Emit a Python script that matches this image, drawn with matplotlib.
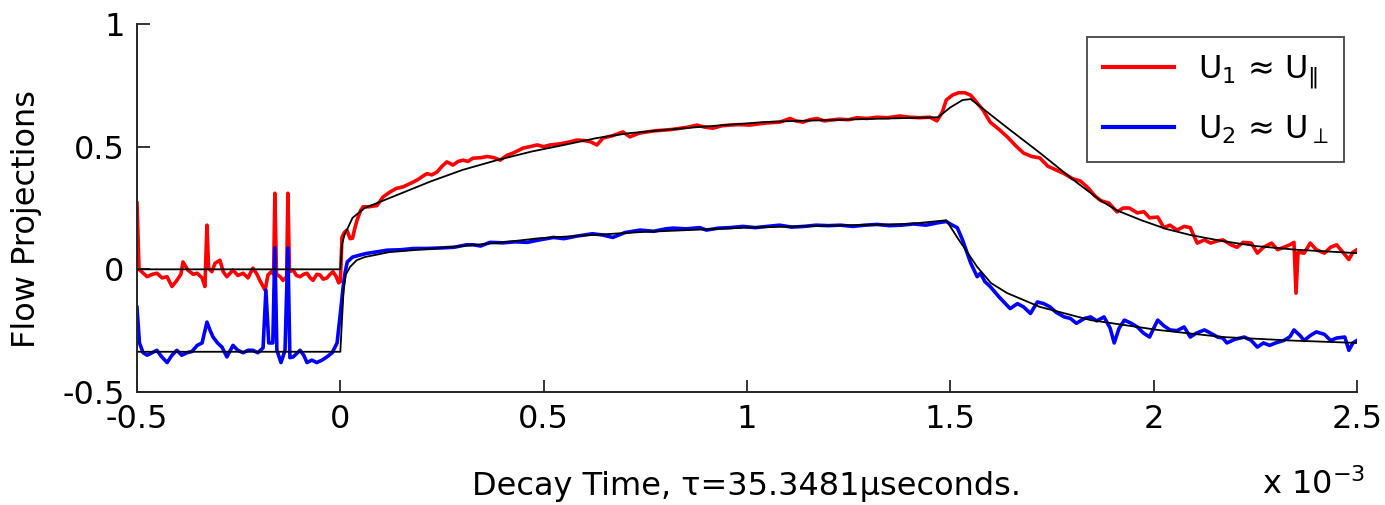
import numpy as np
import matplotlib
matplotlib.use('Agg')
import matplotlib.pyplot as plt

plt.rcParams['font.family'] = ['DejaVu Sans']
plt.rcParams['mathtext.fontset'] = 'dejavusans'

# time in units of 1e-3
t_u1 = [-0.500, -0.495, -0.475, -0.462, -0.451, -0.438, -0.426, -0.414, -0.402, -0.392,
        -0.387, -0.375, -0.362, -0.352, -0.340, -0.333, -0.328, -0.324, -0.316, -0.308,
        -0.296, -0.288, -0.279, -0.264, -0.252, -0.239, -0.227, -0.215, -0.205, -0.198,
        -0.185, -0.178, -0.170, -0.164, -0.161, -0.157, -0.148, -0.141, -0.132, -0.129,
        -0.125, -0.116, -0.108, -0.099, -0.090, -0.082, -0.074, -0.067, -0.058, -0.050,
        -0.042, -0.033, -0.025, -0.018, -0.010, -0.004, 0.000, 0.004, 0.010, 0.016,
        0.024, 0.030, 0.036, 0.041, 0.050, 0.056, 0.070, 0.090, 0.105, 0.122,
        0.138, 0.154, 0.172, 0.189, 0.203, 0.213, 0.225, 0.238, 0.250, 0.262,
        0.277, 0.290, 0.302, 0.314, 0.326, 0.345, 0.361, 0.378, 0.393, 0.410,
        0.425, 0.449, 0.466, 0.484, 0.500, 0.516, 0.532, 0.548, 0.565, 0.582,
        0.600, 0.615, 0.631, 0.646, 0.670, 0.695, 0.712, 0.735, 0.754, 0.775,
        0.793, 0.815, 0.835, 0.856, 0.877, 0.895, 0.916, 0.937, 0.958, 0.980,
        1.007, 1.025, 1.039, 1.060, 1.081, 1.106, 1.120, 1.138, 1.155, 1.172,
        1.190, 1.204, 1.225, 1.250, 1.270, 1.295, 1.320, 1.345, 1.376, 1.400,
        1.425, 1.450, 1.467, 1.480, 1.490, 1.505, 1.520, 1.535, 1.550, 1.565,
        1.580, 1.598, 1.620, 1.640, 1.660, 1.680, 1.700, 1.720, 1.740, 1.760,
        1.780, 1.800, 1.820, 1.840, 1.855, 1.870, 1.890, 1.910, 1.925, 1.940,
        1.960, 1.976, 1.990, 2.010, 2.025, 2.040, 2.057, 2.075, 2.090, 2.107,
        2.125, 2.140, 2.155, 2.170, 2.190, 2.205, 2.220, 2.240, 2.255, 2.270,
        2.290, 2.305, 2.320, 2.335, 2.345, 2.350, 2.355, 2.370, 2.385, 2.400,
        2.420, 2.435, 2.450, 2.465, 2.480, 2.490, 2.500]
u1 = [0.27, 0.00, -0.03, -0.02, -0.016, -0.035, -0.03, -0.07, -0.045, -0.02,
      0.03, -0.003, -0.02, -0.016, -0.035, -0.07, 0.18, 0.005, -0.01, 0.025,
      0.037, -0.01, -0.03, -0.003, -0.025, -0.016, -0.035, 0.005, -0.02, -0.045,
      -0.085, -0.023, -0.01, -0.02, 0.31, -0.02, -0.03, -0.045, -0.03, 0.31,
      -0.01, -0.003, -0.025, -0.03, -0.02, -0.016, -0.035, -0.045, -0.02, -0.023,
      -0.04, -0.035, -0.02, -0.01, -0.03, -0.055, -0.05, 0.13, 0.15, 0.16,
      0.125, 0.127, 0.17, 0.20, 0.24, 0.255, 0.255, 0.26, 0.295, 0.315,
      0.33, 0.336, 0.35, 0.364, 0.38, 0.39, 0.385, 0.397, 0.42, 0.438,
      0.425, 0.44, 0.445, 0.44, 0.453, 0.455, 0.46, 0.455, 0.445, 0.465,
      0.474, 0.494, 0.50, 0.507, 0.50, 0.507, 0.51, 0.514, 0.52, 0.527,
      0.525, 0.52, 0.507, 0.535, 0.545, 0.56, 0.54, 0.555, 0.56, 0.565,
      0.567, 0.57, 0.575, 0.58, 0.588, 0.58, 0.575, 0.585, 0.588, 0.59,
      0.588, 0.592, 0.595, 0.598, 0.60, 0.615, 0.605, 0.60, 0.61, 0.615,
      0.605, 0.608, 0.612, 0.61, 0.618, 0.615, 0.62, 0.618, 0.625, 0.62,
      0.618, 0.62, 0.605, 0.64, 0.69, 0.71, 0.72, 0.72, 0.71, 0.68,
      0.65, 0.60, 0.57, 0.54, 0.505, 0.474, 0.46, 0.454, 0.42, 0.405,
      0.39, 0.37, 0.36, 0.33, 0.30, 0.28, 0.27, 0.234, 0.25, 0.25,
      0.23, 0.235, 0.21, 0.213, 0.17, 0.18, 0.16, 0.175, 0.17, 0.107,
      0.12, 0.107, 0.115, 0.12, 0.10, 0.09, 0.11, 0.107, 0.066, 0.09,
      0.107, 0.08, 0.09, 0.10, 0.11, -0.097, 0.07, 0.066, 0.107, 0.08,
      0.066, 0.09, 0.10, 0.07, 0.04, 0.07, 0.08]

t_u2 = [-0.500, -0.494, -0.485, -0.475, -0.463, -0.451, -0.440, -0.426, -0.414, -0.402,
        -0.390, -0.377, -0.365, -0.352, -0.340, -0.328, -0.320, -0.313, -0.302, -0.291,
        -0.279, -0.264, -0.252, -0.239, -0.227, -0.215, -0.203, -0.190, -0.183, -0.176,
        -0.166, -0.161, -0.156, -0.146, -0.136, -0.129, -0.124, -0.116, -0.099, -0.090,
        -0.082, -0.070, -0.058, -0.045, -0.033, -0.020, -0.008, 0.000, 0.007, 0.012,
        0.017, 0.030, 0.048, 0.065, 0.085, 0.115, 0.150, 0.180, 0.210, 0.245,
        0.280, 0.310, 0.327, 0.345, 0.368, 0.400, 0.430, 0.460, 0.490, 0.524,
        0.550, 0.580, 0.620, 0.645, 0.670, 0.700, 0.737, 0.770, 0.800, 0.818,
        0.850, 0.884, 0.900, 0.930, 0.958, 0.990, 1.020, 1.050, 1.080, 1.110,
        1.140, 1.170, 1.200, 1.230, 1.260, 1.290, 1.320, 1.350, 1.380, 1.410,
        1.440, 1.470, 1.490, 1.505, 1.517, 1.530, 1.550, 1.566, 1.574, 1.585,
        1.598, 1.620, 1.647, 1.665, 1.680, 1.697, 1.714, 1.730, 1.745, 1.760,
        1.780, 1.795, 1.810, 1.830, 1.845, 1.860, 1.878, 1.893, 1.903, 1.915,
        1.928, 1.945, 1.960, 1.975, 1.990, 2.000, 2.010, 2.025, 2.040, 2.057,
        2.075, 2.090, 2.105, 2.125, 2.140, 2.157, 2.170, 2.180, 2.200, 2.223,
        2.240, 2.255, 2.270, 2.285, 2.300, 2.320, 2.335, 2.345, 2.360, 2.370,
        2.385, 2.400, 2.420, 2.435, 2.450, 2.470, 2.480, 2.490, 2.500]
u2 = [-0.155, -0.30, -0.34, -0.35, -0.34, -0.33, -0.355, -0.38, -0.35, -0.33,
      -0.35, -0.34, -0.335, -0.31, -0.30, -0.215, -0.25, -0.276, -0.30, -0.317,
      -0.357, -0.31, -0.33, -0.34, -0.33, -0.33, -0.34, -0.32, -0.085, -0.30,
      -0.30, 0.087, -0.33, -0.38, -0.33, 0.087, -0.36, -0.357, -0.33, -0.35,
      -0.38, -0.37, -0.38, -0.37, -0.357, -0.34, -0.30, -0.18, -0.07, -0.01,
      0.03, 0.05, 0.058, 0.065, 0.07, 0.078, 0.08, 0.085, 0.085, 0.087,
      0.09, 0.10, 0.10, 0.095, 0.11, 0.108, 0.112, 0.11, 0.12, 0.13,
      0.125, 0.135, 0.145, 0.14, 0.13, 0.15, 0.16, 0.155, 0.165, 0.168,
      0.165, 0.17, 0.16, 0.168, 0.17, 0.175, 0.17, 0.175, 0.18, 0.172,
      0.175, 0.18, 0.178, 0.18, 0.175, 0.18, 0.183, 0.178, 0.18, 0.185,
      0.18, 0.19, 0.195, 0.18, 0.17, 0.12, 0.026, -0.03, -0.016, -0.05,
      -0.07, -0.113, -0.16, -0.14, -0.153, -0.18, -0.133, -0.14, -0.153, -0.175,
      -0.194, -0.20, -0.22, -0.20, -0.194, -0.21, -0.194, -0.24, -0.30, -0.24,
      -0.207, -0.22, -0.235, -0.26, -0.276, -0.24, -0.207, -0.23, -0.247, -0.25,
      -0.235, -0.276, -0.26, -0.247, -0.26, -0.276, -0.28, -0.30, -0.285, -0.276,
      -0.29, -0.317, -0.30, -0.31, -0.30, -0.29, -0.275, -0.247, -0.27, -0.29,
      -0.27, -0.255, -0.265, -0.29, -0.28, -0.276, -0.33, -0.30, -0.29]

# fitted curves (black)
t_fit1 = [-0.5, 0.0, 0.004, 0.010, 0.016, 0.030, 0.060, 0.150, 0.220, 0.300,
          0.385, 0.470, 0.550, 0.630, 0.710, 0.790, 0.880, 0.960, 1.040, 1.120,
          1.200, 1.300, 1.400, 1.470, 1.500, 1.530, 1.550, 1.640, 1.720, 1.810,
          1.870, 1.910, 1.970, 2.030, 2.090, 2.170, 2.250, 2.350, 2.500]
fit1 = [0.0, 0.0, 0.10, 0.14, 0.16, 0.21, 0.25, 0.31, 0.357, 0.405,
        0.445, 0.48, 0.507, 0.535, 0.555, 0.567, 0.58, 0.59, 0.60, 0.605,
        0.608, 0.613, 0.617, 0.62, 0.66, 0.69, 0.694, 0.577, 0.475, 0.355,
        0.28, 0.24, 0.20, 0.165, 0.14, 0.115, 0.095, 0.08, 0.066]

t_fit2 = [-0.5, 0.0, 0.004, 0.008, 0.013, 0.024, 0.040, 0.060, 0.120, 0.245,
          0.400, 0.490, 0.740, 1.000, 1.200, 1.400, 1.490, 1.517, 1.566, 1.600,
          1.640, 1.720, 1.845, 2.010, 2.170, 2.335, 2.500]
fit2 = [-0.336, -0.336, -0.207, -0.085, -0.023, 0.01, 0.037, 0.05, 0.07, 0.087,
        0.11, 0.127, 0.152, 0.17, 0.178, 0.185, 0.20, 0.13, 0.01, -0.056,
        -0.097, -0.153, -0.207, -0.247, -0.276, -0.29, -0.30]

xticks = [-0.5, 0, 0.5, 1, 1.5, 2, 2.5]
yticks = [-0.5, 0, 0.5, 1]

fig = plt.figure(figsize=(13.85, 5.05), dpi=100)
ax = fig.add_axes([137/1385, 1 - 392/505, 1220/1385, 368/505])

ax.plot(t_u1, u1, color='#ff0000', lw=2.6, label='U$_1$ ≈ U$_{\\Vert}$')
ax.plot(t_u2, u2, color='#0000ff', lw=2.6, label='U$_2$ ≈ U$_{\\perp}$')
ax.plot(t_fit1, fit1, color='black', lw=1.3)
ax.plot(t_fit2, fit2, color='black', lw=1.3)

ax.set_xlim(-0.5, 2.5)
ax.set_ylim(-0.5, 1)
ax.set_xticks(xticks)
ax.set_xticklabels(['-0.5', '0', '0.5', '1', '1.5', '2', '2.5'])
ax.set_yticks(yticks)
ax.set_yticklabels(['-0.5', '0', '0.5', '1'])

for s in ['top', 'right']:
    ax.spines[s].set_visible(False)
for s in ['left', 'bottom']:
    ax.spines[s].set_linewidth(1.4)
    ax.spines[s].set_color('#262626')
ax.tick_params(direction='in', length=9, width=1.3, color='#262626',
               labelsize=23, pad=9)

ax.set_xlabel('Decay Time, τ=35.3481μseconds.', fontsize=23)
ax.xaxis.set_label_coords(0.5, -0.215)
ax.set_ylabel('Flow Projections', fontsize=23)
ax.yaxis.set_label_coords(-0.078, 0.47)

fig.text(1262/1385, 1 - 494/505, r'x 10$^{-3}$', fontsize=23, ha='left', va='baseline')

leg = ax.legend(loc='upper right', bbox_to_anchor=(1344/1385, 1 - 37/505),
                bbox_transform=fig.transFigure, fontsize=23, frameon=True,
                fancybox=False, edgecolor='#262626', handlelength=2.2,
                borderpad=0.5, labelspacing=0.7, handletextpad=0.75,
                borderaxespad=0)
leg.get_frame().set_linewidth(1.4)
for line in leg.get_lines():
    line.set_linewidth(3)

fig.savefig('out.png', dpi=100)
